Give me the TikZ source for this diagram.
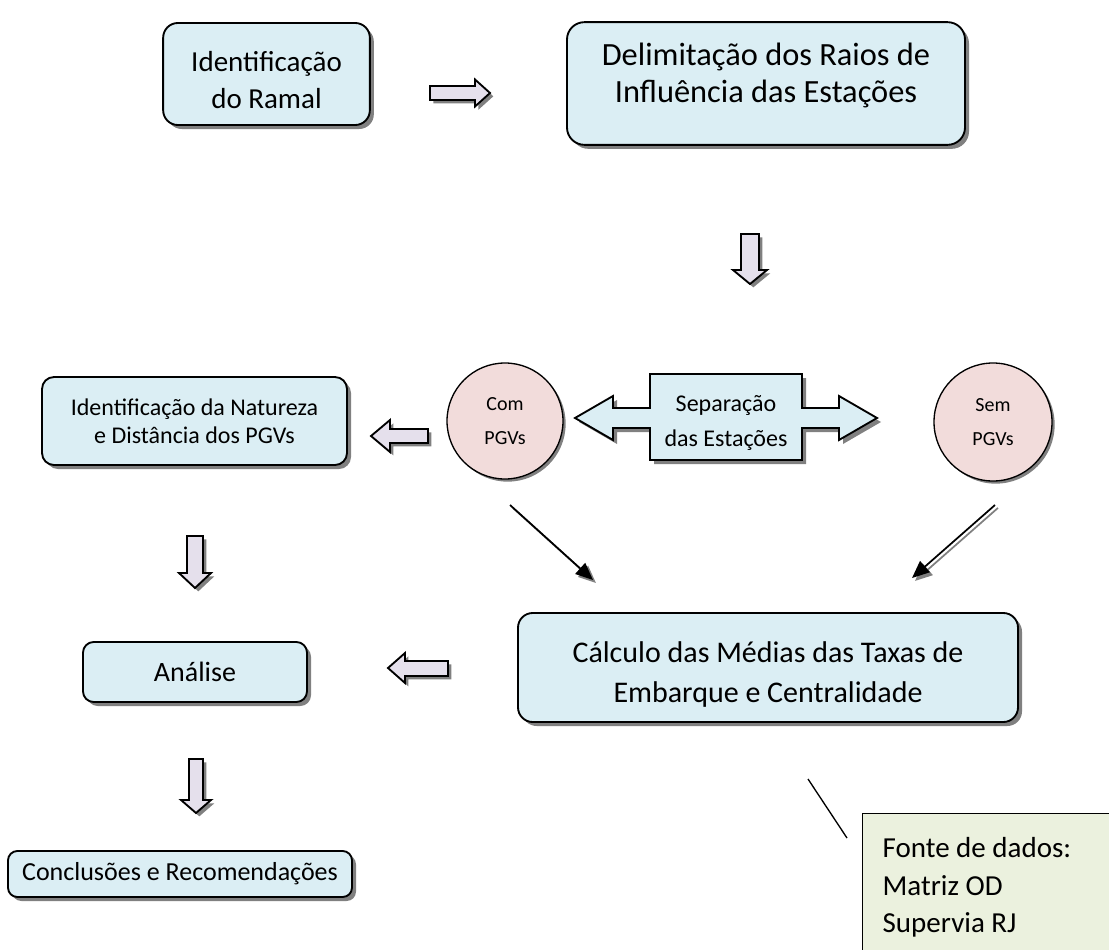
\documentclass[tikz,border=0pt]{standalone}
\usepackage{fontspec}
\setmainfont{Carlito}
\usetikzlibrary{shadows,arrows.meta}
\definecolor{azulcaixa}{RGB}{219,238,244}
\definecolor{rosacirculo}{RGB}{242,220,219}
\definecolor{lilas}{RGB}{229,224,236}
\definecolor{verdefonte}{RGB}{235,241,222}
\definecolor{cinzasombra}{RGB}{128,128,128}

\begin{document}
\begin{tikzpicture}[x=0.75pt,y=-0.75pt]

	%DEFINICOES
	\tikzstyle{every node}=[font=\fontsize{21.75}{28}\selectfont]
	\tikzstyle{caixa} = [draw, align=center, line width=1.4pt, rounded corners=11pt, fill=azulcaixa, drop shadow={shadow xshift=3pt, shadow yshift=-3pt, fill=cinzasombra, opacity=1}]
	\tikzstyle{circulo} = [draw, circle, align=center, line width=1pt, fill=rosacirculo, inner sep=0pt, font=\fontsize{15}{26}\selectfont, drop shadow={shadow xshift=2pt, shadow yshift=-2pt, fill=cinzasombra, opacity=1}]
	\tikzstyle{seta} = [draw, line width=1.4pt, fill=lilas, line join=miter, drop shadow={shadow xshift=2.5pt, shadow yshift=-2.5pt, fill=cinzasombra, opacity=1}]
	\tikzstyle{setadupla} = [draw, line width=1.4pt, fill=azulcaixa, line join=miter, drop shadow={shadow xshift=3pt, shadow yshift=-3pt, fill=cinzasombra, opacity=1}]
	\tikzstyle{flecha} = [-{Triangle[length=13pt, width=11pt]}, line width=1.3pt]
	\tikzstyle{sombraflecha} = [cinzasombra, transform canvas={shift={(2.2pt,-2.2pt)}}]
	\tikzstyle{linea} = [line width=1pt]
	\tikzstyle{blank} = [align=center, inner sep=0pt, outer sep=0pt]
	\tikzstyle{fonte} = [draw, fill=verdefonte, line width=1pt, align=flush left, text width=200pt, inner xsep=15pt, inner ysep=18pt]

	\useasboundingbox (0,0) rectangle (1109,949);
	\clip (0,0) rectangle (1109,949);

	%CAIXAS
	\draw(266.5,74) node[caixa, minimum width=155pt, minimum height=76.5pt](ramal){};
	\draw([yshift=-4.5pt]ramal.center) node[blank](ramaltexto){Identificação\\do Ramal};
	\draw(766,83.5) node[caixa, rounded corners=13pt, minimum width=298.5pt, minimum height=92pt](raios){};
	\draw([yshift=6pt]raios.center) node[blank, font=\fontsize{24.3}{27.5}\selectfont](raiostexto){Delimitação dos Raios de\\Influência das Estações};
	\draw(194.5,421) node[caixa, rounded corners=9pt, minimum width=228.75pt, minimum height=66pt, font=\fontsize{18}{21}\selectfont](natureza){Identificação da Natureza\\e Distância dos PGVs};
	\draw(505,421) node[circulo, minimum size=87pt](com){Com\\PGVs};
	\draw(993,422) node[circulo, minimum size=88.5pt](sem){Sem\\PGVs};
	\draw(195,672) node[caixa, rounded corners=8pt, minimum width=168pt, minimum height=45pt, font=\fontsize{21}{26}\selectfont](analise){Análise};
	\draw(768,667.5) node[caixa, minimum width=375pt, minimum height=81.75pt](medias){};
	\draw([yshift=-5pt]medias.center) node[blank, font=\fontsize{22.5}{30}\selectfont](mediastexto){Cálculo das Médias das Taxas de\\Embarque e Centralidade};
	\draw(180,874) node[caixa, rounded corners=7pt, minimum width=258pt, minimum height=34.5pt, font=\fontsize{19.5}{24}\selectfont](conclusoes){Conclusões e Recomendações};

	%SEPARACAO
	\draw[setadupla] (650,374) -- (802,374) -- (802,408) -- (839,408) -- (839,396) -- (877,418) -- (839,440) -- (839,428) -- (802,428) -- (802,460) -- (650,460) -- (650,428) -- (613,428) -- (613,440) -- (575,418) -- (613,396) -- (613,408) -- (650,408) -- cycle;
	\draw(726,423) node[blank, font=\fontsize{18}{26}\selectfont](separacao){Separação\\das Estações};

	%FONTE DE DADOS
	\draw(862,813) node[fonte, anchor=north west](dados){Fonte de dados:\\Matriz OD\\Supervia RJ};

	%SETAS
	\draw[seta] (430,86) -- (475,86) -- (475,79.5) -- (490,93) -- (475,106.5) -- (475,100) -- (430,100) -- cycle;
	\draw[seta] (741,234) -- (759,234) -- (759,270) -- (767,270) -- (750,284) -- (733,270) -- (741,270) -- cycle;
	\draw[seta] (428,429) -- (390,429) -- (390,420) -- (371,436) -- (390,452) -- (390,443) -- (428,443) -- cycle;
	\draw[seta] (187,536) -- (203,536) -- (203,573) -- (211,573) -- (195,588) -- (179,573) -- (187,573) -- cycle;
	\draw[seta] (448,661) -- (405,661) -- (405,653) -- (388,668) -- (405,683) -- (405,676) -- (448,676) -- cycle;
	\draw[seta] (189,759) -- (203,759) -- (203,800) -- (211,800) -- (196,813) -- (181,800) -- (189,800) -- cycle;

	%FLECHAS
	\coordinate (c1) at (510,505);
	\coordinate (c2) at (593,580);
	\coordinate (c3) at (995,505);
	\coordinate (c4) at (912,578);
	\draw[flecha, sombraflecha] (c1) -- (c2);
	\draw[flecha] (c1) -- (c2);
	\draw[flecha, sombraflecha] (c3) -- (c4);
	\draw[flecha] (c3) -- (c4);

	\coordinate (p1) at (808,779);
	\coordinate (p2) at (847,838);
	\draw[linea] (p1) -- (p2);
\end{tikzpicture}
\end{document}
